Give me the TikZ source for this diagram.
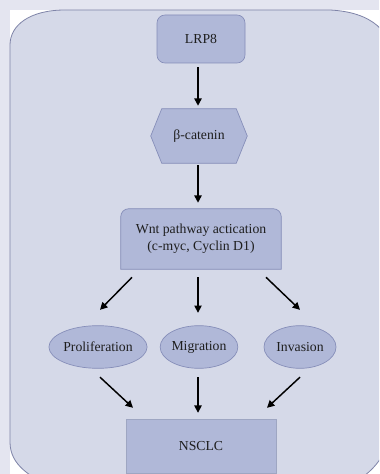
\documentclass[tikz,border=0pt]{standalone}
\usepackage{fontspec}
\setmainfont{Liberation Serif}
\usetikzlibrary{arrows.meta,shapes.geometric}
\definecolor{outerbg}{HTML}{E4E5F0}
\definecolor{panelbg}{HTML}{D5D9E8}
\definecolor{panelln}{HTML}{7F84A8}
\definecolor{nodebg}{HTML}{B0B8D8}
\definecolor{nodeln}{HTML}{858DB8}
\definecolor{txt}{HTML}{1E1E1E}
\tikzset{
  x=0.75pt, y=-0.75pt,
  box/.style={inner sep=0pt, text=txt, font=\fontsize{10.3}{12.75}\selectfont, align=center},
  boxfill/.style={fill=nodebg, draw=nodeln, line width=0.5pt},
  arr/.style={-{Triangle[length=5.5pt,width=5.5pt]}, line width=1.1pt, black},
}
\begin{document}
\begin{tikzpicture}
\useasboundingbox (0,0) rectangle (379,474);
\clip (0,0) rectangle (379,474);
\fill[outerbg] (0,0) rectangle (379,474);
\fill[white] (10,10) rectangle (379,474);
\draw[fill=panelbg, draw=panelln, line width=0.6pt]
  (10,45) .. controls (10,25) and (30,10) .. (65,10)
  -- (330,10) .. controls (370,12) and (395,30) .. (395,70)
  -- (395,400) .. controls (395,450) and (375,478) .. (335,490)
  -- (60,490) .. controls (30,478) and (10,465) .. (10,442) -- cycle;

% nodes
\node[box, boxfill, rounded corners=6pt, minimum width=66pt, minimum height=36pt] (lrp) at (201,39) {LRP8};
\node[box, minimum width=72pt, minimum height=40.5pt] (cat) at (199,136) {};
\draw[boxfill] ([xshift=8.25pt]cat.north west) -- ([xshift=-8.25pt]cat.north east) -- (cat.east)
  -- ([xshift=-8.25pt]cat.south east) -- ([xshift=8.25pt]cat.south west) -- (cat.west) -- cycle;
\node[box] at (cat) {β-catenin};
\node[box, minimum width=120pt, minimum height=45pt] (wnt) at (201,239) {};
\draw[boxfill] (wnt.south west) [rounded corners=6pt] -- (wnt.north west) -- (wnt.north east) [sharp corners] -- (wnt.south east) -- cycle;
\node[box] at (wnt) {Wnt pathway actication\\(c-myc, Cyclin D1)};
\node[box, boxfill, ellipse, minimum width=54pt, minimum height=32pt] (pro) at (98,347) {Proliferation};
\node[box, boxfill, ellipse, minimum width=54pt, minimum height=32pt] (mig) at (199,347) {Migration};
\node[box, boxfill, ellipse, minimum width=54pt, minimum height=32pt] (inv) at (300,347) {Invasion};
\node[box, fill=nodebg, draw=nodebg!90!black, line width=0.3pt, minimum width=112.5pt, minimum height=40.5pt] (ns) at (201,446) {NSCLC};

% connectors
\draw[arr] ([shift={(-3,4)}]lrp.south) -- ([shift={(-1,-3)}]cat.north);
\draw[arr] ([shift={(-1,2)}]cat.south) -- ([shift={(-3,-6)}]wnt.north);
\draw[arr] ([shift={(-69,8)}]wnt.south) -- ([shift={(2,-15.5)}]pro.north);
\draw[arr] ([shift={(-3,8)}]wnt.south) -- ([shift={(-1,-12.5)}]mig.north);
\draw[arr] ([shift={(65,8)}]wnt.south) -- ([shift={(0,-15.5)}]inv.north);
\draw[arr] ([shift={(2,8.5)}]pro.south) -- ([shift={(-68,-11)}]ns.north);
\draw[arr] ([shift={(-1,8.5)}]mig.south) -- ([shift={(-3,-6)}]ns.north);
\draw[arr] ([shift={(0,8.5)}]inv.south) -- ([shift={(66,-11)}]ns.north);
\end{tikzpicture}
\end{document}
